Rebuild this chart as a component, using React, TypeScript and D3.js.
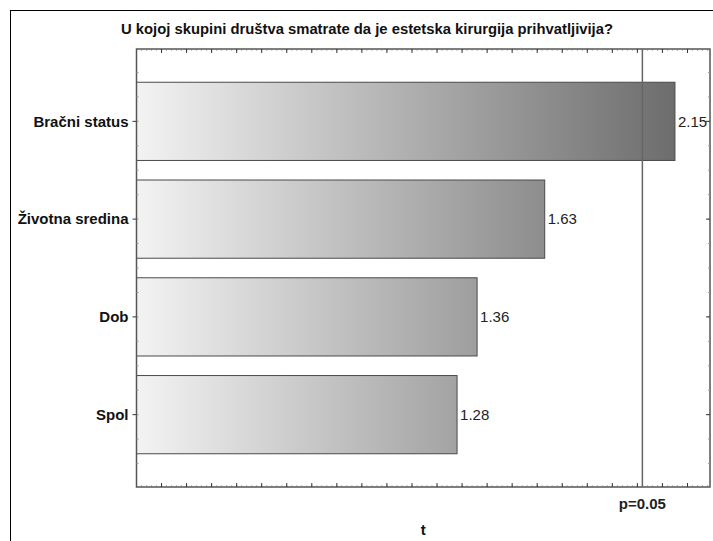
import { range, scaleBand, scaleLinear } from 'd3'

const title = 'U kojoj skupini društva smatrate da je estetska kirurgija prihvatljivija?'
const categories = ['Bračni status', 'Životna sredina', 'Dob', 'Spol']
const tValues = [2.15, 1.63, 1.36, 1.28]
const critical = 2.02
const criticalLabel = 'p=0.05'
const axisTitle = 't'

const font = '"Liberation Sans", Arial, sans-serif'

export default function App() {
  const width = 713
  const height = 541
  const left = 136.5
  const right = 710
  const top = 49
  const bottom = 487

  const x = scaleLinear().domain([0, 2.29]).range([left, right])
  const y = scaleBand<string>().domain(categories).range([top, bottom]).paddingInner(0.2).paddingOuter(0.34)
  const yIndex = scaleLinear()
    .domain([0, categories.length - 1])
    .range([y(categories[0])! + y.bandwidth() / 2, y(categories[categories.length - 1])! + y.bandwidth() / 2])

  const majorX = range(0.1, 2.29, 0.1)
  const minorX = range(0.02, 2.29, 0.02)
  const minorY = range(-1.5, categories.length + 0.5, 0.25)
    .map((v) => yIndex(v))
    .filter((v) => v > top + 2 && v < bottom - 2)

  return (
    <svg width={width} height={height} style={{ position: 'absolute', left: 0, top: 0 }} fontFamily={font}>
      <defs>
        <linearGradient id="barFill" gradientUnits="userSpaceOnUse" x1={x(0)} x2={x(2.29)} y1="0" y2="0">
          <stop offset="0" stopColor="#f3f3f3" />
          <stop offset="1" stopColor="#646464" />
        </linearGradient>
      </defs>
      <rect width={width} height={height} fill="#ffffff" />
      <rect x="10.5" y="10.5" width={width + 10} height={height + 10} fill="none" stroke="#000" strokeWidth="1" />
      <text x={367} y={34} textAnchor="middle" fontSize="14" fontWeight="bold" fill="#111" textLength="492" lengthAdjust="spacingAndGlyphs">
        {title}
      </text>

      {tValues.map((v, i) => (
        <rect
          key={categories[i]}
          x={x(0)}
          y={y(categories[i])}
          width={x(v) - x(0)}
          height={y.bandwidth()}
          fill="url(#barFill)"
          stroke="#4a4a4a"
          strokeWidth="1"
        />
      ))}

      {/* frame */}
      <rect x={left} y={top} width={right - left} height={bottom - top} fill="none" stroke="#555" strokeWidth="1.5" />

      {/* x ticks, top and bottom, pointing inward */}
      {minorX.map((v) => (
        <g key={`mx${v}`} stroke="#777" strokeWidth="1">
          <line x1={x(v)} x2={x(v)} y1={bottom} y2={bottom - 1.5} />
          <line x1={x(v)} x2={x(v)} y1={top} y2={top + 1.5} />
        </g>
      ))}
      {majorX.map((v) => (
        <g key={`Mx${v}`} stroke="#333" strokeWidth="1">
          <line x1={x(v)} x2={x(v)} y1={bottom} y2={bottom - 4} />
          <line x1={x(v)} x2={x(v)} y1={top} y2={top + 4} />
        </g>
      ))}

      {/* y ticks */}
      {minorY.map((v) => (
        <g key={`my${v}`} stroke="#999" strokeWidth="1">
          <line x1={left} x2={left + 2} y1={v} y2={v} />
          <line x1={right} x2={right - 2} y1={v} y2={v} />
        </g>
      ))}
      {categories.map((c) => {
        const cy = y(c)! + y.bandwidth() / 2
        return (
          <g key={`My${c}`} stroke="#333" strokeWidth="1">
            <line x1={left} x2={left - 4} y1={cy} y2={cy} />
            <line x1={right} x2={right - 4} y1={cy} y2={cy} />
          </g>
        )
      })}

      {/* critical value line */}
      <line x1={x(critical)} x2={x(critical)} y1={top} y2={bottom} stroke="#666" strokeWidth="1.5" />
      <text x={x(critical)} y={509} textAnchor="middle" fontSize="15" fontWeight="bold" fill="#222">
        {criticalLabel}
      </text>

      {/* category labels */}
      {categories.map((c) => (
        <text
          key={`l${c}`}
          x={left - 8}
          y={y(c)! + y.bandwidth() / 2}
          dy="0.35em"
          textAnchor="end"
          fontSize="15"
          fontWeight="bold"
          fill="#111"
        >
          {c}
        </text>
      ))}

      {/* value labels */}
      {tValues.map((v, i) => (
        <text
          key={`v${categories[i]}`}
          x={x(v) + 3}
          y={y(categories[i])! + y.bandwidth() / 2}
          dy="0.35em"
          fontSize="15"
          fill="#222"
        >
          {v.toFixed(2)}
        </text>
      ))}

      <text x={(left + right) / 2} y={535} textAnchor="middle" fontSize="15" fontWeight="bold" fill="#111">
        {axisTitle}
      </text>
    </svg>
  )
}
